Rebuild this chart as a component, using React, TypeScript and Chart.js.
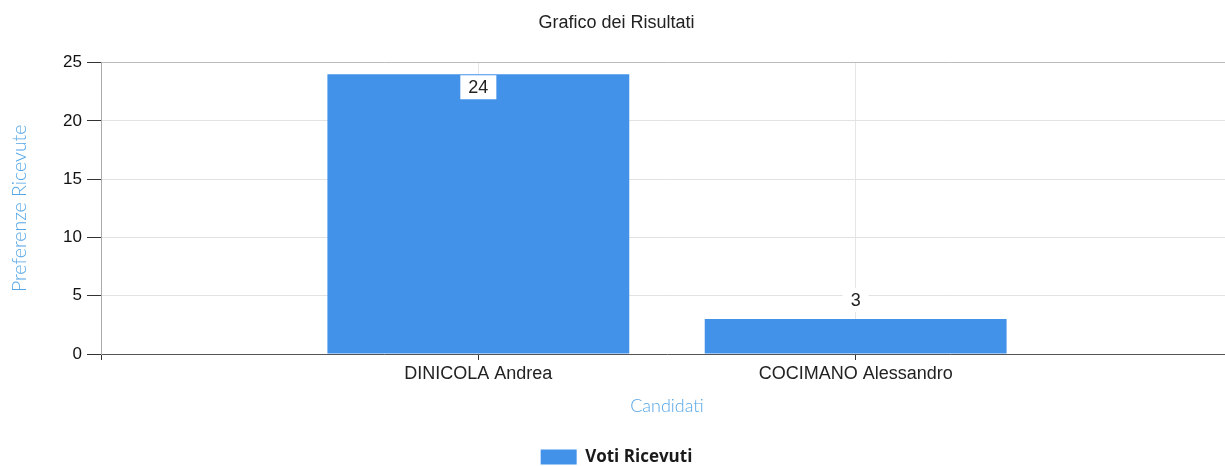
import React, { useEffect, useRef } from "react";
import { Chart, registerables } from "chart.js";

Chart.register(...registerables);

const chartTitle = "Grafico dei Risultati";
const categories = ["DINICOLA Andrea", "COCIMANO Alessandro"];
const votes = [24, 3];
const seriesName = "Voti Ricevuti";
const yAxisTitle = "Preferenze Ricevute";
const xAxisTitle = "Candidati";
const yTicks = [0, 5, 10, 15, 20, 25];

const SANS = "'Liberation Sans', Arial, sans-serif";
const LIGHT = "Lato, 'Open Sans', sans-serif";
const BAR = "#4292EA";
const AXIS_BLUE = "#55A6E6";

const valueLabels = {
  id: "valueLabels",
  afterDatasetsDraw(chart: any) {
    const ctx = chart.ctx;
    const meta = chart.getDatasetMeta(0);
    const area = chart.chartArea;
    ctx.save();
    ctx.font = `18px ${SANS}`;
    ctx.textAlign = "center";
    ctx.textBaseline = "middle";
    meta.data.forEach((bar: any, i: number) => {
      const text = String(votes[i]);
      const w = ctx.measureText(text).width + 16;
      const h = 24;
      let cy = bar.y - 19;
      if (cy - h / 2 < area.top) cy = bar.y + 13;
      ctx.fillStyle = "#ffffff";
      ctx.fillRect(bar.x - w / 2, cy - h / 2, w, h);
      ctx.fillStyle = "#222222";
      ctx.fillText(text, bar.x, cy + 1);
    });
    ctx.restore();
  },
};

export default function App() {
  const ref = useRef<HTMLCanvasElement | null>(null);

  useEffect(() => {
    if (!ref.current) return;
    const chart = new Chart(ref.current, {
      type: "bar",
      data: {
        datasets: [
          {
            label: seriesName,
            data: categories.map((c, i) => ({ x: i + 1, y: votes[i] })),
            backgroundColor: BAR,
            borderWidth: 0,
            barPercentage: 1,
            categoryPercentage: 0.8,
          },
        ],
      },
      plugins: [valueLabels],
      options: {
        animation: false,
        responsive: false,
        layout: { padding: { left: 0, right: 7, top: 0, bottom: 14.5 } },
        plugins: {
          title: {
            display: true,
            text: chartTitle,
            color: "#222222",
            font: { family: SANS, size: 18, weight: "normal" },
            padding: { top: 12, bottom: 29 },
          },
          legend: {
            display: true,
            position: "bottom",
            labels: {
              boxWidth: 36,
              boxHeight: 15,
              padding: 10,
              color: "#1a1a1a",
              font: { family: "'Open Sans', " + SANS, size: 17, weight: "bold" },
            },
          },
          tooltip: { enabled: false },
        },
        scales: {
          x: {
            type: "linear",
            min: 0,
            max: categories.length + 1,
            offset: false,
            ticks: {
              stepSize: 1,
              autoSkip: false,
              maxRotation: 0,
              padding: 3,
              color: "#222222",
              font: { family: SANS, size: 18 },
              callback: (v: any) => categories[Number(v) - 1] ?? "",
            },
            grid: {
              offset: false,
              drawTicks: true,
              tickLength: 6,
              tickColor: "#333333",
              color: (c: any) =>
                c.tick && c.tick.value >= 1 && c.tick.value <= categories.length
                  ? "#e6e6e6"
                  : "rgba(0,0,0,0)",
            },
            border: { display: true, color: "#555555", width: 1 },
            title: {
              display: true,
              text: xAxisTitle,
              color: AXIS_BLUE,
              font: { family: LIGHT, size: 18, weight: 300 },
              padding: { top: 8, bottom: 21.3 },
            },
          },
          y: {
            min: 0,
            max: 25,
            afterFit: (s: any) => {
              s.width = 101;
            },
            afterBuildTicks: (s: any) => {
              s.ticks = yTicks.map((v) => ({ value: v }));
            },
            ticks: {
              padding: 5,
              color: "#111111",
              font: { family: SANS, size: 17 },
            },
            grid: {
              drawTicks: true,
              tickLength: 14,
              tickColor: "#333333",
              color: (c: any) =>
                c.tick && c.tick.value === 25
                  ? "#bbbbbb"
                  : c.tick && c.tick.value === 0
                  ? "rgba(0,0,0,0)"
                  : "#e2e2e2",
            },
            border: { display: true, color: "#aaaaaa", width: 1 },
            title: {
              display: true,
              text: yAxisTitle,
              color: AXIS_BLUE,
              font: { family: LIGHT, size: 19.5, weight: 300 },
              padding: { top: 8, bottom: 0 },
            },
          },
        },
      },
    } as any);
    return () => chart.destroy();
  }, []);

  return (
    <div
      style={{
        position: "fixed",
        left: 0,
        top: 0,
        width: 1240,
        height: 490,
        background: "#ffffff",
      }}
    >
      <canvas ref={ref} width={1240} height={490} style={{ display: "block" }} />
    </div>
  );
}
